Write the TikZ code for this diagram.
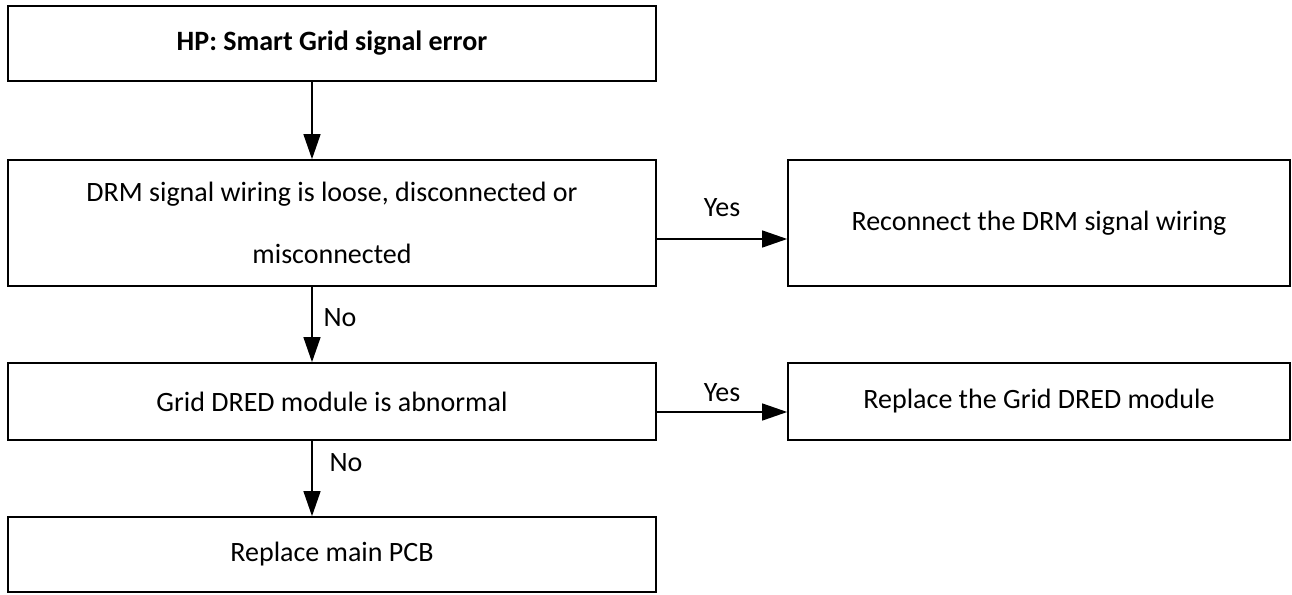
\documentclass[tikz,border=0pt]{standalone}
\usepackage{fontspec}
\setmainfont{Carlito}
\usetikzlibrary{arrows.meta}
\tikzset{
  box/.style={draw=black, line width=1.7pt, rectangle, inner sep=0pt, align=center,
    font=\fontsize{28}{62}\selectfont},
  conn/.style={line width=1.3pt, -{Triangle[length=25pt,width=17pt]}},
  lbl/.style={inner sep=0pt, font=\fontsize{28}{34}\selectfont},
}
\begin{document}
\begin{tikzpicture}[x=1pt,y=-1pt]
\useasboundingbox (0,0) rectangle (1292,594);
\node[box, minimum width=648pt, minimum height=75pt] (b1) at (332,43.5) {\bfseries HP: Smart Grid signal error};
\node[box, minimum width=648pt, minimum height=126pt] (b2) at (332,223) {DRM signal wiring is loose, disconnected or\\misconnected};
\node[box, minimum width=648pt, minimum height=77pt] (b3) at (332,401.5) {Grid DRED module is abnormal};
\node[box, minimum width=648pt, minimum height=75pt] (b4) at (332,554.5) {Replace main PCB};
\node[box, minimum width=502pt, minimum height=126pt] (r1) at (1039,223) {Reconnect the DRM signal wiring};
\node[box, minimum width=502pt, minimum height=77pt] (r2) at (1039,401.5) {Replace the Grid DRED module};
\coordinate (ax) at (312,0);
\coordinate (y1) at (0,239);
\coordinate (y2) at (0,412);
\draw[conn] (b1.south -| ax) -- (b2.north -| ax);
\draw[conn] (b2.south -| ax) -- (b3.north -| ax);
\draw[conn] (b3.south -| ax) -- (b4.north -| ax);
\draw[conn] (b2.east |- y1) -- (r1.west |- y1);
\draw[conn] (b3.east |- y2) -- (r2.west |- y2);
\node[lbl] (yes1) at (722,208) {Yes};
\node[lbl] (yes2) at (722,393) {Yes};
\node[lbl] (no1) at (340,318) {No};
\node[lbl] (no2) at (346,463) {No};
\end{tikzpicture}
\end{document}
